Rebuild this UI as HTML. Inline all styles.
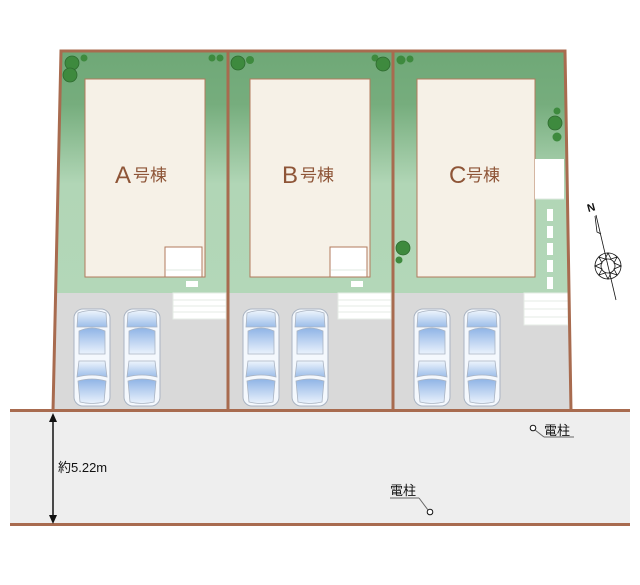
<!DOCTYPE html>
<html><head><meta charset="utf-8"><style>
body{margin:0;background:#fff;width:640px;height:585px;overflow:hidden}
svg{display:block}
text{font-family:"Liberation Sans","Noto Sans CJK JP",sans-serif}
</style></head><body>
<svg width="640" height="585" viewBox="0 0 640 585">
<defs>
<linearGradient id="g" x1="0" y1="0" x2="0" y2="1">
<stop offset="0" stop-color="#6fa877"/><stop offset="0.22" stop-color="#76ad7d"/><stop offset="0.55" stop-color="#b1d6b6"/><stop offset="1" stop-color="#b3d7b8"/></linearGradient>
<linearGradient id="w" x1="0" y1="0" x2="0" y2="1">
<stop offset="0" stop-color="#8fb4e6"/><stop offset="1" stop-color="#eaf2fc"/></linearGradient>
<linearGradient id="w2" x1="0" y1="0" x2="0" y2="1">
<stop offset="0" stop-color="#eef5fd"/><stop offset="1" stop-color="#9cbde9"/></linearGradient>
<g id="car">
<rect x="0" y="0" width="36" height="97" rx="9" fill="#f4f8fd" stroke="#aab4c2" stroke-width="1"/>
<path d="M4 4 Q18 -1 32 4 L33 18 L3 18 Z" fill="url(#w2)" stroke="#aab4c2" stroke-width="0.8"/>
<path d="M5 22 Q18 16 31 22 L31 45 L5 45 Z" fill="url(#w)" stroke="#aab4c2" stroke-width="0.8"/>
<path d="M5 52 L31 52 L33 68 Q18 64 3 68 Z" fill="url(#w2)" stroke="#aab4c2" stroke-width="0.8"/>
<path d="M4 72 Q18 68 32 72 L30 93 Q18 96 6 93 Z" fill="url(#w)" stroke="#aab4c2" stroke-width="0.8"/>
</g>
<g id="tree"><circle r="7" fill="#3e8a3e" stroke="#2f6b30" stroke-width="0.8"/></g>
</defs>
<!-- lot fills -->
<polygon points="61,51 565,51 569,293 55,293" fill="url(#g)"/>
<polygon points="55,293 569,293 571,411 53,411" fill="#d9d9d9"/>
<!-- road -->
<rect x="10" y="411" width="620" height="113" fill="#eeeeee"/>
<rect x="10" y="409" width="620" height="3" fill="#a86b4f"/>
<rect x="10" y="523" width="620" height="3" fill="#a86b4f"/>
<!-- houses -->
<rect x="85" y="79" width="120" height="198" fill="#f6f1e7" stroke="#b17a5c" stroke-width="1"/>
<rect x="250" y="79" width="120" height="198" fill="#f6f1e7" stroke="#b17a5c" stroke-width="1"/>
<rect x="417" y="79" width="118" height="198" fill="#f6f1e7" stroke="#b17a5c" stroke-width="1"/>
<rect x="165" y="247" width="37" height="30" fill="#fff" stroke="#b17a5c"/>
<rect x="330" y="247" width="37" height="30" fill="#fff" stroke="#b17a5c"/>
<line x1="166" y1="270" x2="201" y2="270" stroke="#dfe9e0"/><line x1="331" y1="270" x2="366" y2="270" stroke="#dfe9e0"/>
<rect x="186" y="281" width="12" height="6" fill="#fff"/><rect x="351" y="281" width="12" height="6" fill="#fff"/>
<!-- steps -->
<g fill="#fff" stroke="#e6ece6"><rect x="173" y="293" width="53" height="26"/><rect x="338" y="293" width="53" height="26"/><rect x="524" y="293" width="44" height="32"/></g>
<g stroke="#e4ebe4"><line x1="173" y1="300" x2="226" y2="300"/><line x1="173" y1="306" x2="226" y2="306"/><line x1="173" y1="312" x2="226" y2="312"/>
<line x1="338" y1="300" x2="391" y2="300"/><line x1="338" y1="306" x2="391" y2="306"/><line x1="338" y1="312" x2="391" y2="312"/>
<line x1="524" y1="301" x2="568" y2="301"/><line x1="524" y1="309" x2="568" y2="309"/><line x1="524" y1="317" x2="568" y2="317"/></g>
<!-- C side white path -->
<rect x="535" y="159" width="29" height="40" fill="#fff"/>
<line x1="535" y1="199" x2="564" y2="199" stroke="#dfe9e0"/>
<g fill="#fff"><rect x="547" y="209" width="6" height="12"/><rect x="547" y="226" width="6" height="12"/><rect x="547" y="243" width="6" height="12"/><rect x="547" y="260" width="6" height="12"/><rect x="547" y="277" width="6" height="12"/></g>
<!-- trees -->
<use href="#tree" x="72" y="63"/><use href="#tree" x="70" y="75" transform="translate(0,0)"/>
<circle cx="84" cy="58" r="3.5" fill="#3e8a3e"/><circle cx="212" cy="58" r="3.5" fill="#3e8a3e"/><circle cx="220" cy="58" r="3.5" fill="#3e8a3e"/>
<use href="#tree" x="238" y="63"/><circle cx="250" cy="60" r="4" fill="#3e8a3e"/>
<circle cx="375" cy="58" r="3.5" fill="#3e8a3e"/><use href="#tree" x="383" y="64"/>
<circle cx="401" cy="60" r="4.5" fill="#3e8a3e"/><circle cx="410" cy="59" r="3.5" fill="#3e8a3e"/>
<circle cx="557" cy="111" r="3.5" fill="#3e8a3e"/><use href="#tree" x="555" y="123"/><circle cx="557" cy="137" r="4.5" fill="#3e8a3e"/>
<use href="#tree" x="403" y="248"/><circle cx="399" cy="260" r="3.5" fill="#3e8a3e"/>
<!-- cars -->
<use href="#car" x="74" y="309"/><use href="#car" x="124" y="309"/>
<use href="#car" x="243" y="309"/><use href="#car" x="292" y="309"/>
<use href="#car" x="414" y="309"/><use href="#car" x="464" y="309"/>
<!-- boundaries -->
<g fill="none" stroke="#a86b4f" stroke-width="3">
<polyline points="53,411 61,51 565,51 571,411"/>
<line x1="228" y1="51" x2="228" y2="411"/><line x1="393" y1="51" x2="393" y2="411"/>
</g>
<!-- labels -->
<g fill="#8e5537">
<text x="115" y="183" font-size="24">A</text><text x="133" y="181" font-size="17">号棟</text>
<text x="282" y="183" font-size="24">B</text><text x="300" y="181" font-size="17">号棟</text>
<text x="449" y="183" font-size="24">C</text><text x="466" y="181" font-size="17">号棟</text>
</g>
<!-- dimension -->
<line x1="53" y1="420" x2="53" y2="517" stroke="#111" stroke-width="1.5"/>
<polygon points="53,413 49,422 57,422" fill="#111"/><polygon points="53,524 49,515 57,515" fill="#111"/>
<text x="58" y="472" font-size="13" fill="#111">約5.22m</text>
<!-- poles -->
<circle cx="533" cy="428" r="2.8" fill="#fff" stroke="#111" stroke-width="1"/>
<line x1="535" y1="430" x2="544" y2="437" stroke="#666"/><line x1="544" y1="437" x2="574" y2="437" stroke="#666"/>
<text x="544" y="435" font-size="13" fill="#111">電柱</text>
<circle cx="430" cy="512" r="2.8" fill="#fff" stroke="#111" stroke-width="1"/>
<line x1="428" y1="510" x2="419" y2="498" stroke="#666"/><line x1="390" y1="498" x2="419" y2="498" stroke="#666"/>
<text x="390" y="495" font-size="13" fill="#111">電柱</text>
<!-- compass -->
<g stroke="#111" fill="none" stroke-width="0.8">
<line x1="596" y1="215" x2="616" y2="300"/>
<polyline points="595,216 597,232 601,234"/>
<circle cx="608" cy="266" r="13"/><circle cx="608" cy="266" r="7"/>
<polygon points="608,253 611,259 617,257 614,263 621,266 614,269 617,275 611,273 608,279 605,273 599,275 602,269 595,266 602,263 599,257 605,259"/>
</g>
<text x="587" y="211" font-size="11" font-weight="bold" fill="#111" transform="rotate(-15 592 207)">N</text>
</svg>
</body></html>
